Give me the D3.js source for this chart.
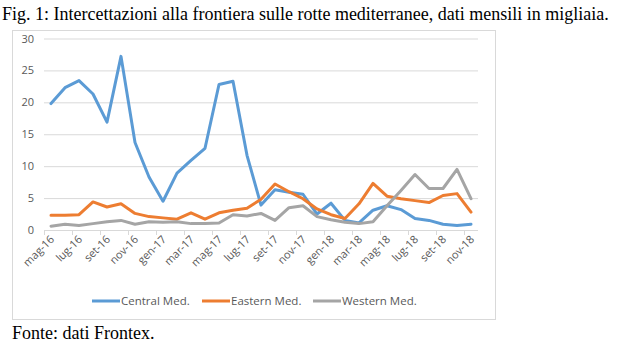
<!DOCTYPE html>
<meta charset="utf-8">
<style>
body { margin: 0; background: #fff; }
.serif { font-family: "Liberation Serif", "Times New Roman", serif; font-size: 18px; fill: #000; }
.tick text, .lab { font-family: "Open Sans", "Liberation Sans", sans-serif; font-size: 11px; fill: #595959; }
.leg { font-family: "Open Sans", "Liberation Sans", sans-serif; font-size: 11.5px; fill: #595959; }
</style>
<svg width="620" height="353"></svg>
<script src="https://d3js.org/d3.v7.min.js"></script>
<script>

// monthly data, thousands, mag-16 .. nov-18
var months = ["mag-16","giu-16","lug-16","ago-16","set-16","ott-16","nov-16","dic-16",
  "gen-17","feb-17","mar-17","apr-17","mag-17","giu-17","lug-17","ago-17","set-17","ott-17","nov-17","dic-17",
  "gen-18","feb-18","mar-18","apr-18","mag-18","giu-18","lug-18","ago-18","set-18","ott-18","nov-18"];

var central = [19.8, 22.3, 23.4, 21.3, 16.9, 27.2, 13.7, 8.3, 4.5, 8.9, 10.9, 12.8, 22.8, 23.3, 11.7, 3.9,
  6.3, 5.9, 5.6, 2.5, 4.2, 1.5, 1.1, 3.1, 3.8, 3.2, 1.8, 1.5, 0.9, 0.7, 0.9];
var eastern = [2.3, 2.3, 2.4, 4.4, 3.6, 4.1, 2.6, 2.1, 1.9, 1.7, 2.7, 1.7, 2.7, 3.1, 3.4, 4.8,
  7.2, 6.0, 4.9, 3.3, 2.4, 1.8, 4.1, 7.3, 5.3, 4.9, 4.6, 4.3, 5.4, 5.7, 2.8];
var western = [0.6, 0.9, 0.7, 1.0, 1.3, 1.5, 0.9, 1.3, 1.2, 1.3, 1.0, 1.0, 1.1, 2.4, 2.2, 2.6,
  1.5, 3.5, 3.8, 2.1, 1.6, 1.2, 1.0, 1.3, 3.8, 6.2, 8.7, 6.5, 6.5, 9.5, 4.9];

var yTicks = [0, 5, 10, 15, 20, 25, 30];
var seriesNames = ["Central Med.", "Eastern Med.", "Western Med."];
var colors = ["#5b9bd5", "#ed7d31", "#a5a5a5"];

var svg = d3.select("svg");

svg.append("text").attr("class", "serif").attr("x", 2).attr("y", 20)
  .text("Fig. 1: Intercettazioni alla frontiera sulle rotte mediterranee, dati mensili in migliaia.");

// chart frame
svg.append("rect").attr("x", 12.5).attr("y", 30.5).attr("width", 483).attr("height", 289)
  .attr("fill", "#fff").attr("stroke", "#d9d9d9");

var plotL = 44, plotR = 478, plotT = 38.5, plotB = 230;

var x = d3.scaleBand().domain(months).range([plotL, plotR]);
var y = d3.scaleLinear().domain([0, 30]).range([plotB, plotT]);

// gridlines + y labels
var yAxis = svg.append("g").attr("transform", "translate(" + plotL + ",0)")
  .call(d3.axisLeft(y).tickValues(yTicks).tickSize(-(plotR - plotL)).tickPadding(10));
yAxis.select(".domain").remove();
yAxis.selectAll(".tick line").attr("stroke", "#d9d9d9");
yAxis.selectAll(".tick").filter(function(d) { return d === 0; }).select("line").remove();

// x axis line and ticks every 2 months
svg.append("line").attr("x1", plotL).attr("x2", plotR).attr("y1", plotB + 0.5).attr("y2", plotB + 0.5)
  .attr("stroke", "#d9d9d9");
svg.selectAll(".xt").data(months.filter(function(d, i) { return i % 2 === 0; }))
  .enter().append("line").attr("class", "xt")
  .attr("x1", function(d) { return Math.round(x(d)) + 0.5; })
  .attr("x2", function(d) { return Math.round(x(d)) + 0.5; })
  .attr("y1", plotB).attr("y2", plotB + 5)
  .attr("stroke", "#d9d9d9");

svg.selectAll(".lab").data(months.filter(function(d, i) { return i % 2 === 0; }))
  .enter().append("text").attr("class", "lab")
  .attr("text-anchor", "end")
  .attr("transform", function(d) {
    return "translate(" + (x(d) + x.bandwidth() / 2 + 4) + "," + (plotB + 10) + ") rotate(-45)";
  })
  .text(function(d) { return d; });

// lines
var line = d3.line()
  .x(function(d, i) { return x(months[i]) + x.bandwidth() / 2; })
  .y(function(d) { return y(d); });

[central, eastern, western].forEach(function(s, k) {
  svg.append("path").datum(s)
    .attr("fill", "none").attr("stroke", colors[k]).attr("stroke-width", 3)
    .attr("stroke-linejoin", "round").attr("stroke-linecap", "round")
    .attr("d", line);
});

// legend
var legX = [92, 202, 313];
seriesNames.forEach(function(n, k) {
  svg.append("line").attr("x1", legX[k]).attr("x2", legX[k] + 28).attr("y1", 301).attr("y2", 301)
    .attr("stroke", colors[k]).attr("stroke-width", 3);
  svg.append("text").attr("class", "leg").attr("x", legX[k] + 29).attr("y", 305).text(n);
});

// source
svg.append("text").attr("class", "serif").attr("x", 12).attr("y", 339).text("Fonte: dati Frontex.");
</script>
